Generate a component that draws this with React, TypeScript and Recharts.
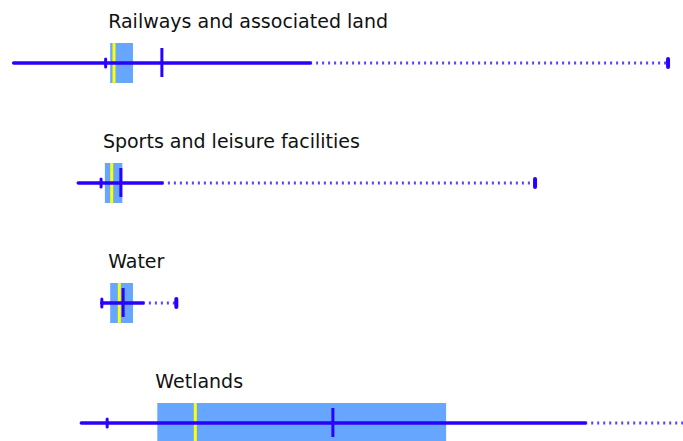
import { ComposedChart, Bar, XAxis, YAxis } from 'recharts';

// land-use classes, one row each
const categories = [
  'Railways and associated land',
  'Sports and leisure facilities',
  'Water',
  'Wetlands',
];

// distribution stats per class (same order as categories)
const minValues = [1.8, 10.3, 13.4, 10.7];
const p5Values = [13.9, 13.3, 13.4, 14.1];
const q1Values = [14.5, 13.8, 14.5, 20.7];
const medianValues = [15.0, 14.7, 15.7, 25.7];
const q3Values = [17.5, 16.1, 17.5, 58.7];
const meanValues = [21.3, 15.9, 16.2, 43.8];
const p95Values = [40.8, 21.3, 18.8, 77.0];
const maxValues = [87.9, 70.4, 23.2, 96.0];

const LINE = '#2a00ff';
const BOX = '#66a6ff';
const MEDIAN = '#ffff00';

const data = categories.map((name, i) => ({
  name,
  min: minValues[i],
  p5: p5Values[i],
  q1: q1Values[i],
  median: medianValues[i],
  q3: q3Values[i],
  mean: meanValues[i],
  p95: p95Values[i],
  max: maxValues[i],
}));

// bar spans 0..max, so positions of the other stats scale off its width
const BoxShape = (props: any) => {
  const { x, y, width, height, payload } = props;
  const px = (v: number) => x + (width * v) / payload.max;
  const cy = y + height / 2;
  const top = y;
  return (
    <g>
      <text
        x={px(payload.q1) - 2}
        y={cy - 35}
        fontFamily="DejaVu Sans, sans-serif"
        fontSize={19}
        fill="#111"
      >
        {payload.name}
      </text>
      <rect x={px(payload.q1)} y={top} width={px(payload.q3) - px(payload.q1)} height={height} fill={BOX} />
      <line x1={px(payload.median)} x2={px(payload.median)} y1={top} y2={top + height} stroke={MEDIAN} strokeWidth={3} />
      <line x1={px(payload.p95)} x2={px(payload.max)} y1={cy} y2={cy} stroke={LINE} strokeWidth={3} strokeDasharray="2 4" strokeOpacity={0.75} />
      <line x1={px(payload.min)} x2={px(payload.p95)} y1={cy} y2={cy} stroke={LINE} strokeWidth={3.5} strokeLinecap="round" />
      <line x1={px(payload.p5)} x2={px(payload.p5)} y1={cy - 4} y2={cy + 4} stroke={LINE} strokeWidth={3} strokeLinecap="round" />
      <line x1={px(payload.mean)} x2={px(payload.mean)} y1={cy - 15} y2={cy + 14} stroke={LINE} strokeWidth={3} />
      <line x1={px(payload.max)} x2={px(payload.max)} y1={cy - 4} y2={cy + 4} stroke={LINE} strokeWidth={4} strokeLinecap="round" />
    </g>
  );
};

export default function App() {
  return (
    <div style={{ position: 'absolute', left: 0, top: 0, width: 683, height: 441, overflow: 'hidden', background: '#fff' }}>
      <ComposedChart
        width={760}
        height={483}
        data={data}
        layout="vertical"
        margin={{ top: 3, right: 0, bottom: 0, left: 0 }}
      >
        <XAxis type="number" domain={[0, 100]} hide />
        <YAxis type="category" dataKey="name" hide />
        <Bar dataKey="max" barSize={40} shape={BoxShape} isAnimationActive={false} />
      </ComposedChart>
    </div>
  );
}
